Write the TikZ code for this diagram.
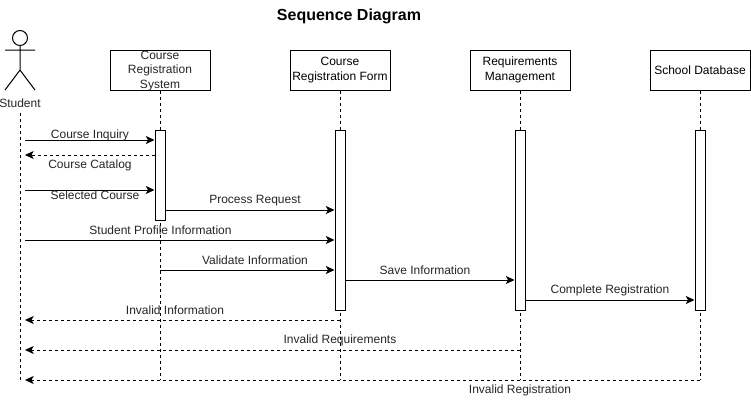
\documentclass[tikz,border=0pt]{standalone}
\usepackage{fontspec}
\setmainfont{Liberation Sans}
\usetikzlibrary{arrows.meta}
\tikzset{
  px/.style={x=0.75pt,y=-0.75pt},
  party/.style={draw=black,line width=0.75pt,fill=white,minimum width=75pt,minimum height=30pt,inner sep=0pt,align=center,font=\fontsize{9}{11.2}\selectfont},
  activ/.style={draw=black,line width=0.75pt,fill=white,minimum width=7.5pt,inner sep=0pt},
  life/.style={line width=0.75pt,dash pattern=on 2.25pt off 2.25pt},
  msg/.style={line width=0.75pt,-{Stealth[length=6.5pt,width=6pt,inset=1.6pt]}},
  ret/.style={msg,dash pattern=on 2.25pt off 2.25pt},
  lab/.style={inner sep=0pt,font=\fontsize{9}{11}\selectfont,text=black!85},
  actorline/.style={line width=0.75pt},
}
\begin{document}
\begin{tikzpicture}[px]
\useasboundingbox[fill=white] (0,0) rectangle (751,400);
\node[inner sep=0pt,font=\fontsize{12}{14}\selectfont\bfseries] (title) at (349,16.5) {Sequence Diagram};
% actor
\node[draw,circle,line width=0.75pt,minimum size=11.25pt,inner sep=0pt] (head) at (20,38) {};
\coordinate (hip) at (20,70);
\coordinate (armL) at (5,50);
\coordinate (armR) at (35,50);
\coordinate (legL) at (5,90);
\coordinate (legR) at (35,90);
\draw[actorline] (head.south) -- (hip) (armL) -- (armR) (legL) -- (hip) -- (legR);
\node[lab] (student) at (20,103.5) {Student};
% parties
\node[party] (sys) at (160,70) {};
\node[party] (form) at (340,70) {Course\\Registration Form};
\node[party] (req) at (520,70) {Requirements\\Management};
\node[party] (db) at (700,70) {School Database};
% lifeline ends
\coordinate (sEnd) at (20,380);
\coordinate (sStart) at (20,113);
\coordinate (b1) at (160,380);
\coordinate (b2) at (340,380);
\coordinate (b3) at (520,380);
\coordinate (b4) at (700,380);
\draw[life] (sStart) -- (sEnd);
\draw[life] (sys.south) -- (b1);
\draw[life] (form.south) -- (b2);
\draw[life] (req.south) -- (b3);
\draw[life] (db.south) -- (b4);
% activations
\node[activ,minimum height=67.5pt] (a1) at (160,175) {};
\node[activ,minimum height=135pt] (a2) at (340,220) {};
\node[activ,minimum height=135pt] (a3) at (520,220) {};
\node[activ,minimum height=135pt] (a4) at (700,220) {};
% free ends on the student side
\coordinate (s1) at (25,140);
\coordinate (s2) at (25,155);
\coordinate (s3) at (25,190);
\coordinate (s4) at (25,240);
\coordinate (s5) at (25,320);
\coordinate (s6) at (25,350);
\coordinate (s7) at (25,380);
\coordinate (v1) at (160,270);
\coordinate (m1) at (165,210);
\coordinate (m2) at (345,280);
\coordinate (m3) at (525,300);
% messages
\draw[msg] (s1) -- (a1.west |- s1);
\draw[ret] (a1.west |- s2) -- (s2);
\draw[msg] (s3) -- (a1.west |- s3);
\draw[msg] (m1) -- (a2.west |- m1);
\draw[msg] (s4) -- (a2.west |- s4);
\draw[msg] (v1) -- (a2.west |- v1);
\draw[msg] (m2) -- (a3.west |- m2);
\draw[msg] (m3) -- (a4.west |- m3);
\draw[ret] (b2 |- s5) -- (s5);
\draw[ret] (b3 |- s6) -- (s6);
\draw[ret] (b4) -- (s7);
% system name over its lifeline
\node[lab,align=center,font=\fontsize{9}{11.2}\selectfont] (sysname) at (160,71) {Course\\Registration\\System};
% labels
\node[lab] (l1) at (90,135) {Course Inquiry};
\node[lab] (l2) at (90,165.5) {Course Catalog};
\node[lab] (l3) at (95,195.5) {Selected Course};
\node[lab] (l4) at (255,200.5) {Process Request};
\node[lab] (l5) at (160.5,230) {Student Profile Information};
\node[lab] (l6) at (255,260) {Validate Information};
\node[lab] (l7) at (425,270) {Save Information};
\node[lab] (l8) at (610,290.5) {Complete Registration};
\node[lab] (l9) at (175,310) {Invalid Information};
\node[lab] (l10) at (340,340.5) {Invalid Requirements};
\node[lab] (l11) at (520,390.5) {Invalid Registration};
\end{tikzpicture}
\end{document}
